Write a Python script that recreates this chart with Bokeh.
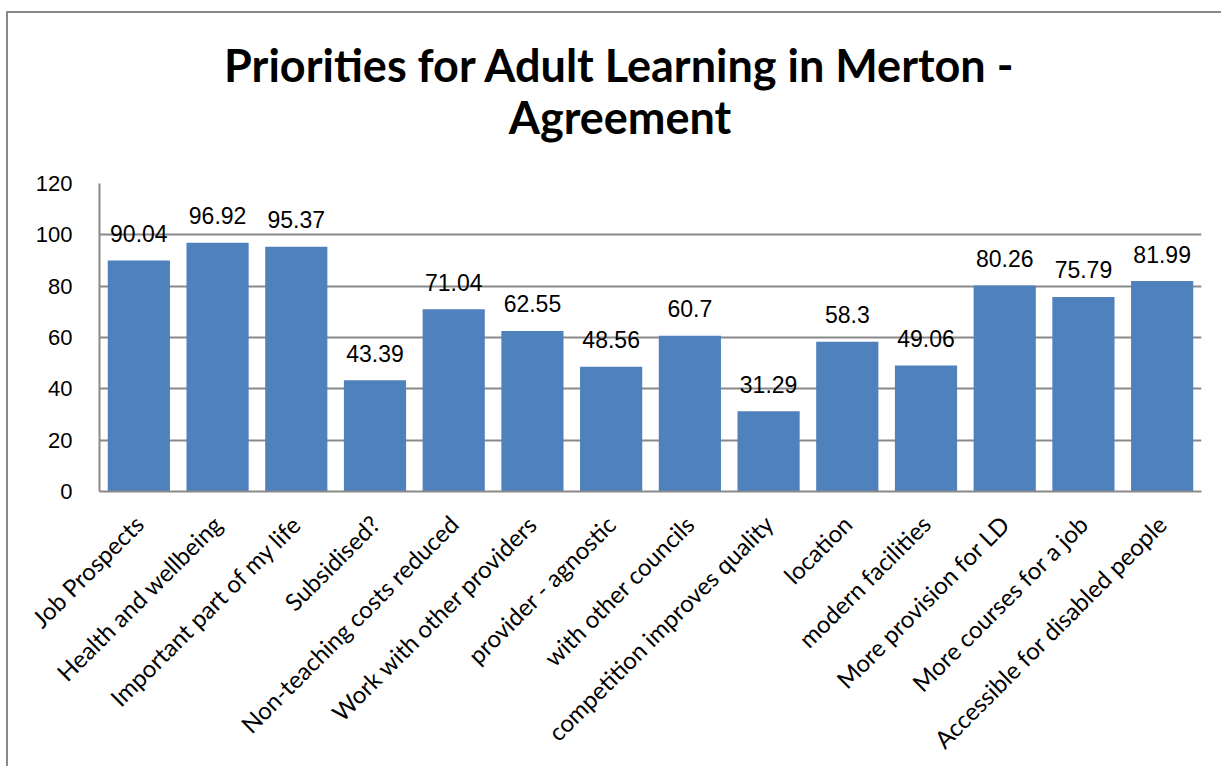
import math
from bokeh.plotting import figure
from bokeh.models import ColumnDataSource, Label, Range1d, FactorRange, FixedTicker
from bokeh.core.properties import value
from bokeh.embed import file_html
from bokeh.resources import INLINE

categories = [
    "Job Prospects", "Health and wellbeing", "Important part of my life",
    "Subsidised?", "Non-teaching costs reduced", "Work with other providers",
    "provider - agnostic", "with other councils", "competition improves quality",
    "location", "modern facilities", "More provision for LD",
    "More courses for a job", "Accessible for disabled people",
]
agreement = [90.04, 96.92, 95.37, 43.39, 71.04, 62.55, 48.56, 60.7, 31.29,
             58.3, 49.06, 80.26, 75.79, 81.99]
y_ticks = [0, 20, 40, 60, 80, 100, 120]
title_lines = ["Priorities for Adult Learning in Merton -", "Agreement"]

source = ColumnDataSource(dict(
    cat=categories,
    val=agreement,
    lab=[str(v) for v in agreement],
))

GRID = "#898989"
BAR = "#4F81BD"

p = figure(
    x_range=FactorRange(*categories, range_padding=0),
    y_range=Range1d(0, 120),
    width=1215, height=755,
    output_backend="svg", toolbar_location=None,
    min_border_left=91, min_border_right=22,
    min_border_top=170, min_border_bottom=277,
    title=None,
)
p.styles = {
    "border-left": "2px solid #898989",
    "border-top": "2px solid #898989",
    "margin-left": "6px",
    "margin-top": "11px",
}

p.vbar(x="cat", top="val", width=0.79, source=source,
       fill_color=BAR, line_color=None)

p.text(x="cat", y="val", text="lab", source=source,
       text_align="center", text_baseline="alphabetic", y_offset=-27,
       text_font=value("Liberation Sans"), text_font_size="23px",
       text_color="#000000")

# axes
p.yaxis.ticker = FixedTicker(ticks=y_ticks)
p.yaxis.major_label_text_font = "Liberation Sans"
p.yaxis.major_label_text_font_size = "22px"
p.yaxis.major_label_text_color = "#000000"
p.yaxis.major_tick_line_color = None
p.yaxis.major_tick_out = 0
p.yaxis.major_tick_in = 0
p.yaxis.minor_tick_line_color = None
p.yaxis.axis_line_color = GRID
p.yaxis.axis_line_width = 2
p.yaxis.major_label_standoff = 27

p.xaxis.major_label_orientation = math.pi / 4
p.xaxis.major_label_text_font = "Lato"
p.xaxis.major_label_text_font_size = "24px"
p.xaxis.major_label_text_color = "#000000"
p.xaxis.major_tick_line_color = None
p.xaxis.major_tick_out = 0
p.xaxis.major_tick_in = 0
p.xaxis.axis_line_color = GRID
p.xaxis.axis_line_width = 2
p.xaxis.major_label_standoff = 28

p.xgrid.grid_line_color = None
p.ygrid.grid_line_color = GRID
p.ygrid.grid_line_width = 2
p.outline_line_color = None

# title (two centred lines), placed in the panel above the frame
p.add_layout(Label(x=520.5, y=119, x_units="screen", y_units="screen",
                   text=title_lines[0], text_align="center",
                   text_baseline="alphabetic", text_font="Lato",
                   text_font_style="bold", text_font_size="45px",
                   text_color="#000000"), "above")
p.add_layout(Label(x=520.5, y=13, x_units="screen", y_units="screen",
                   text=title_lines[1], text_align="center",
                   text_baseline="alphabetic", text_font="Lato",
                   text_font_style="bold", text_font_size="45px",
                   text_color="#000000"), "above")

open("out.html", "w").write(file_html(p, INLINE))
